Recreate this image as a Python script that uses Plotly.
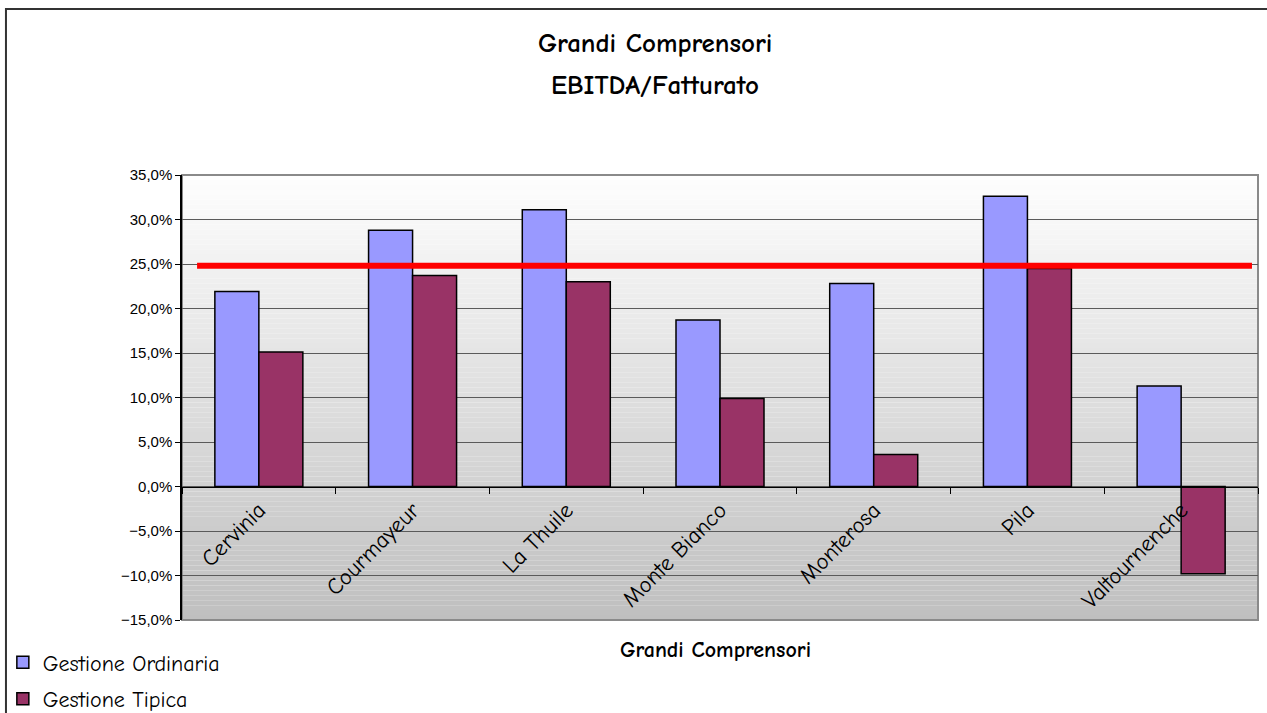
import plotly.graph_objects as go

# Data
categories = ["Cervinia", "Courmayeur", "La Thuile", "Monte Bianco", "Monterosa", "Pila", "Valtournenche"]
gestione_ordinaria = [0.219, 0.288, 0.311, 0.187, 0.228, 0.326, 0.113]
gestione_tipica = [0.151, 0.237, 0.230, 0.099, 0.036, 0.245, -0.098]
soglia = 0.248
y_ticks = [-0.15, -0.10, -0.05, 0.0, 0.05, 0.10, 0.15, 0.20, 0.25, 0.30, 0.35]

COMIC = "Comic Sans MS, Comic Neue, DejaVu Sans, sans-serif"
ARIAL = "Arial, Liberation Sans, sans-serif"

fig = go.Figure()
fig.add_trace(go.Bar(
    name="Gestione Ordinaria", x=categories, y=gestione_ordinaria,
    marker=dict(color="#9999FF", line=dict(color="#000000", width=1.5)),
    legendgroup="a",
))
fig.add_trace(go.Bar(
    name="Gestione Tipica", x=categories, y=gestione_tipica,
    marker=dict(color="#993366", line=dict(color="#000000", width=1.5)),
    legendgroup="b",
))

shapes = []
# vertical gradient background of the plot area
n = 90
top_c, bot_c = 254, 191
for i in range(n):
    f = (i + 0.5) / n
    c = round(top_c + (bot_c - top_c) * f)
    shapes.append(dict(
        type="rect", xref="paper", yref="paper", x0=0, x1=1,
        y1=1 - i / n, y0=1 - (i + 1) / n,
        fillcolor=f"rgb({c},{c},{c})", line=dict(width=0), layer="below",
    ))
# plot area border
shapes.append(dict(type="rect", xref="paper", yref="paper", x0=0, x1=1, y0=0, y1=1,
                   line=dict(color="#8a8a8a", width=2), fillcolor="rgba(0,0,0,0)", layer="below"))
# outer chart frame
shapes.append(dict(type="rect", xref="paper", yref="paper", x0=-0.1636, x1=1.2, y0=-0.3, y1=1.373,
                   line=dict(color="#333333", width=2), fillcolor="rgba(0,0,0,0)", layer="below"))
# reference threshold line
shapes.append(dict(type="line", xref="paper", yref="y", x0=0.014, x1=0.9944, y0=soglia, y1=soglia,
                   line=dict(color="#FF0000", width=6), layer="above"))

annotations = [
    dict(text="<b>Grandi Comprensori</b>", xref="paper", yref="paper", x=0.4396, y=1.2966,
         xanchor="center", yanchor="middle",
         showarrow=False, font=dict(family=COMIC, size=27, color="#000000")),
    dict(text="<b>EBITDA/Fatturato</b>", xref="paper", yref="paper", x=0.4396, y=1.2022,
         xanchor="center", yanchor="middle",
         showarrow=False, font=dict(family=COMIC, size=27, color="#000000")),
    dict(text="<b>Grandi Comprensori</b>", xref="paper", yref="paper", x=0.4954, y=-0.0674,
         xanchor="center", yanchor="middle",
         showarrow=False, font=dict(family=COMIC, size=22, color="#000000")),
]

fig.update_layout(
    width=1267, height=713,
    margin=dict(l=182, r=9, t=175, b=93, autoexpand=False),
    paper_bgcolor="#FFFFFF",
    plot_bgcolor="rgba(0,0,0,0)",
    separators=",.",
    barmode="group", bargap=0.4275, bargroupgap=0,
    showlegend=True,
    legend=dict(x=-0.1665, y=-0.048, xanchor="left", yanchor="top",
                orientation="v", traceorder="grouped", tracegroupgap=5,
                font=dict(family=COMIC, size=22, color="#000000"),
                bgcolor="rgba(0,0,0,0)", itemwidth=30),
    shapes=shapes,
    annotations=annotations,
    xaxis=dict(
        type="category", anchor="free", position=0.3,
        showline=True, linecolor="#000000", linewidth=1,
        ticks="outside", tickson="boundaries", ticklen=6, tickcolor="#000000",
        tickangle=-45, showgrid=False,
        tickfont=dict(family=COMIC, size=23, color="#000000"),
    ),
    yaxis=dict(
        range=[-0.15, 0.35], tickvals=y_ticks, tickformat=".1%",
        showline=True, linecolor="#000000", linewidth=1.5,
        ticks="outside", ticklen=5, tickcolor="#000000",
        showgrid=True, gridcolor="#5a5a5a", gridwidth=1,
        zeroline=False,
        tickfont=dict(family=ARIAL, size=15, color="#000000"),
    ),
)

fig.write_html("out.html")
